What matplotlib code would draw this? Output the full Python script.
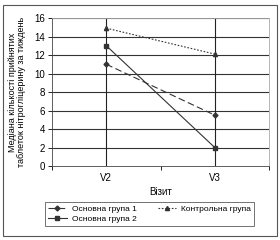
import matplotlib.pyplot as plt
from matplotlib.patches import Rectangle

plt.rcParams['font.family'] = ['Liberation Sans', 'DejaVu Sans']

visits = ['V2', 'V3']
group1 = [11.0, 5.5]
group2 = [13.0, 2.0]
control = [14.9, 12.1]

fig = plt.figure(figsize=(2.8, 2.4), dpi=100)
ax = fig.add_axes([0.186, 0.308, 0.775, 0.617])

x = [0.5, 1.5]
ax.plot(x, group1, linestyle=(0, (6, 3)), color='#333333', lw=0.8,
        marker='D', ms=2.5, label='Основна група 1')
ax.plot(x, control, linestyle=(0, (1.5, 1.5)), color='#333333', lw=0.8,
        marker='^', ms=3, label='Контрольна група')
ax.plot(x, group2, linestyle='-', color='#333333', lw=0.8,
        marker='s', ms=3, label='Основна група 2')

ax.set_xlim(0, 2)
ax.set_ylim(0, 16)
ax.set_yticks(range(0, 17, 2))
ax.set_xticks(x)
ax.set_xticklabels(visits)
ax.set_xticks([0, 1, 2], minor=True)
ax.tick_params(axis='x', which='major', length=0, pad=5, labelsize=7)
ax.tick_params(axis='x', which='minor', length=3, width=0.6)
ax.tick_params(axis='y', length=3, width=0.6, labelsize=7, pad=2)

for v in range(2, 17, 2):
    ax.axhline(v, color='#333333', lw=0.8, zorder=0)
for xv in x:
    ax.axvline(xv, color='#222222', lw=0.8, zorder=0)

for s in ['top', 'right']:
    ax.spines[s].set_color('#aaaaaa')
    ax.spines[s].set_linewidth(0.6)
for s in ['left', 'bottom']:
    ax.spines[s].set_color('#444444')
    ax.spines[s].set_linewidth(0.6)

ax.set_xlabel('Візит', fontsize=7, labelpad=3)
ax.set_ylabel('Медіана кількості прийнятих\nтаблеток нітрогліцерину за тиждень',
              fontsize=6.5, linespacing=1.0, labelpad=6)

h, l = ax.get_legend_handles_labels()
order = [0, 2, 1]
leg = fig.legend([h[i] for i in order], [l[i] for i in order], ncol=2,
                 loc='center', bbox_to_anchor=(0.535, 0.108),
                 fontsize=6, frameon=True, fancybox=False,
                 edgecolor='#333333', handlelength=2.2, borderpad=0.35,
                 labelspacing=0.25, columnspacing=2.6, handletextpad=0.6)
leg.get_frame().set_linewidth(0.6)

fig.patches.append(Rectangle((0.01, 0.015), 0.98, 0.965, transform=fig.transFigure,
                             fill=False, edgecolor='#555555', lw=0.8))

fig.savefig('out.png', dpi=100)
